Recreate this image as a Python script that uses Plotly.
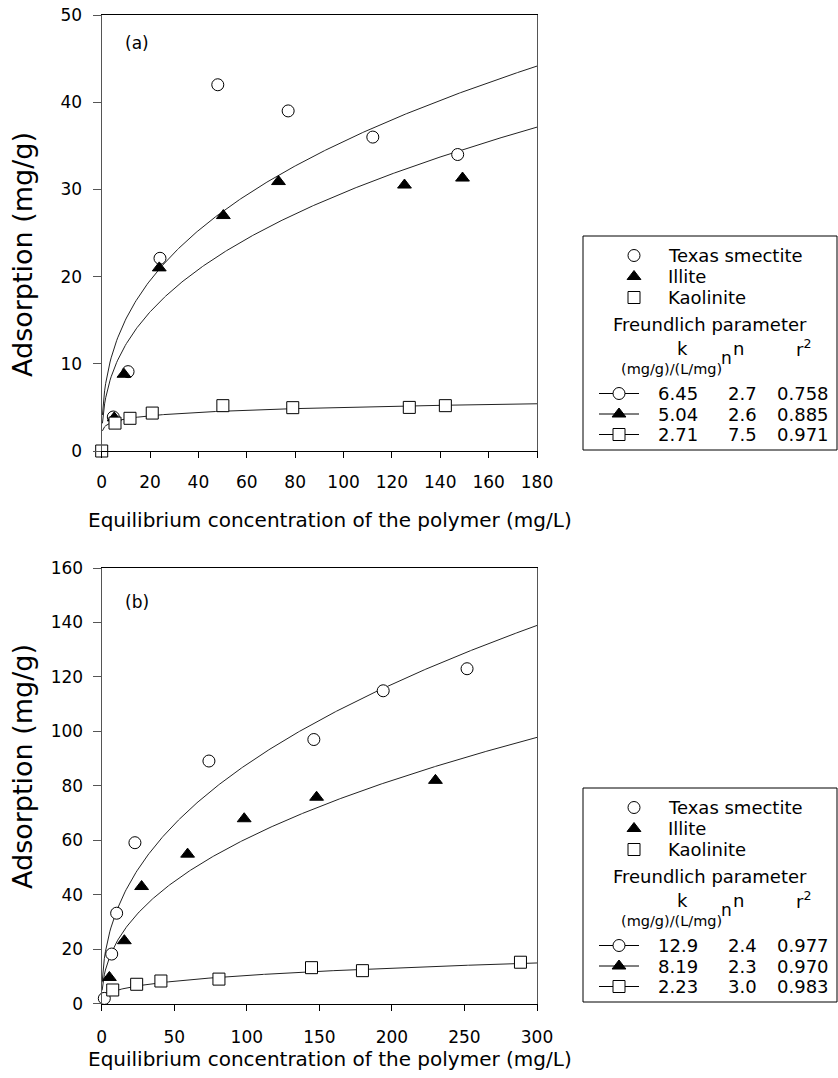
import numpy as np
import plotly.graph_objects as go

# ---- measured adsorption data, panel (a) ----
tx_a_x = [4.8, 10.9, 24.1, 48.0, 77.1, 112.1, 147.2]
tx_a_y = [3.9, 9.1, 22.1, 42.0, 39.0, 36.0, 34.0]
il_a_x = [5.2, 9.2, 23.8, 50.3, 73.1, 125.2, 149.2]
il_a_y = [3.8, 8.8, 21.0, 27.0, 30.9, 30.5, 31.3]
ka_a_x = [0.0, 5.5, 11.7, 20.9, 50.1, 79.0, 127.2, 142.1]
ka_a_y = [0.0, 3.2, 3.75, 4.35, 5.2, 4.97, 5.0, 5.2]

# ---- measured adsorption data, panel (b) ----
tx_b_x = [1.8, 6.9, 10.3, 22.9, 73.9, 146.2, 194.0, 251.8]
tx_b_y = [1.9, 18.2, 33.2, 59.1, 89.1, 97.0, 114.9, 123.0]
il_b_x = [5.3, 15.6, 27.5, 59.2, 98.2, 148.1, 230.0]
il_b_y = [9.6, 23.1, 43.0, 54.9, 67.9, 75.8, 82.0]
ka_b_x = [7.6, 24.1, 40.8, 80.8, 144.6, 179.7, 288.6]
ka_b_y = [5.0, 7.1, 8.3, 9.0, 13.2, 12.1, 15.2]

# ---- Freundlich parameters (k, n, r^2) ----
minerals = ["Texas smectite", "Illite", "Kaolinite"]
k_a = [6.45, 5.04, 2.71]
n_a = [2.7, 2.6, 7.5]
r2_a = ["0.758", "0.885", "0.971"]
k_b = [12.9, 8.19, 2.23]
n_b = [2.4, 2.3, 3.0]
r2_b = ["0.977", "0.970", "0.983"]

x_ticks_a = [0, 20, 40, 60, 80, 100, 120, 140, 160, 180]
y_ticks_a = [0, 10, 20, 30, 40, 50]
x_ticks_b = [0, 50, 100, 150, 200, 250, 300]
y_ticks_b = [0, 20, 40, 60, 80, 100, 120, 140, 160]

W, H = 838, 1078
FONT = "DejaVu Sans, Verdana, sans-serif"
symbols = ["circle", "triangle-up", "square"]
fills = ["white", "black", "white"]


def px_x(p):
    return p / W


def px_y(p):
    return 1 - p / H


def txt_font(size):
    return dict(size=size, family=FONT, color="black")


fig = go.Figure()


def add_panel(series, ks, ns, xmax, xa, ya):
    # fitted Freundlich isotherms q = k * C^(1/n)
    for k, n in zip(ks, ns):
        c = np.linspace(0.3, xmax, 400)
        fig.add_trace(go.Scatter(x=c, y=k * c ** (1.0 / n), mode="lines",
                                 line=dict(color="#222222", width=1),
                                 xaxis=xa, yaxis=ya, showlegend=False,
                                 hoverinfo="skip"))
    for (x, y), sym, fc in zip(series, symbols, fills):
        fig.add_trace(go.Scatter(x=x, y=y, mode="markers", xaxis=xa, yaxis=ya,
                                 marker=dict(symbol=sym, size=12, color=fc,
                                             line=dict(color="black", width=1)),
                                 cliponaxis=False, showlegend=False))


add_panel([(tx_a_x, tx_a_y), (il_a_x, il_a_y), (ka_a_x, ka_a_y)],
          k_a, n_a, 180, "x", "y")
add_panel([(tx_b_x, tx_b_y), (il_b_x, il_b_y), (ka_b_x, ka_b_y)],
          k_b, n_b, 300, "x2", "y2")

# pixel-space overlay (x3/y3) holding the parameter boxes and titles
annotations = []
shapes = []
for top, ks, ns, r2s in [(236, k_a, n_a, r2_a), (788, k_b, n_b, r2_b)]:
    shapes.append(dict(type="rect", xref="x3", yref="y3", x0=583, x1=837,
                       y0=top, y1=top + 214, line=dict(color="black", width=1)))
    for i, name in enumerate(minerals):
        yy = top + 19.5 + 21 * i
        fig.add_trace(go.Scatter(x=[634], y=[yy], mode="markers", xaxis="x3", yaxis="y3",
                                 marker=dict(symbol=symbols[i], size=12, color=fills[i],
                                             line=dict(color="black", width=1)),
                                 showlegend=False, hoverinfo="skip"))
        annotations.append(dict(x=666, y=yy, xref="x3", yref="y3", text=name,
                                showarrow=False, xanchor="left", yanchor="middle",
                                font=txt_font(18)))
    annotations.append(dict(x=710, y=top + 88, xref="x3", yref="y3",
                            text="Freundlich parameter", showarrow=False,
                            xanchor="center", yanchor="middle", font=txt_font(18)))
    for txt, cx in [("k", 682), ("n", 738), ("r<sup>2</sup>", 803)]:
        annotations.append(dict(x=cx, y=top + 112, xref="x3", yref="y3", text=txt,
                                showarrow=False, xanchor="center", yanchor="middle",
                                font=txt_font(18)))
    annotations.append(dict(x=619, y=top + 133, xref="x3", yref="y3",
                            text="(mg/g)/(L/mg)", showarrow=False,
                            xanchor="left", yanchor="middle", font=txt_font(14.5)))
    annotations.append(dict(x=726, y=top + 122, xref="x3", yref="y3",
                            text="n", showarrow=False,
                            xanchor="center", yanchor="middle", font=txt_font(17)))
    for i in range(3):
        yy = top + 157.5 + 20.5 * i
        fig.add_trace(go.Scatter(x=[599, 639], y=[yy, yy], mode="lines", xaxis="x3",
                                 yaxis="y3", line=dict(color="black", width=1),
                                 showlegend=False, hoverinfo="skip"))
        fig.add_trace(go.Scatter(x=[619], y=[yy], mode="markers", xaxis="x3", yaxis="y3",
                                 marker=dict(symbol=symbols[i], size=12, color=fills[i],
                                             line=dict(color="black", width=1)),
                                 showlegend=False, hoverinfo="skip"))
        for txt, cx in [(f"{ks[i]:g}", 678), (f"{ns[i]:.1f}", 742), (r2s[i], 803)]:
            annotations.append(dict(x=cx, y=yy, xref="x3", yref="y3", text=txt,
                                    showarrow=False, xanchor="center", yanchor="middle",
                                    font=txt_font(18)))

# panel tags and axis titles
for tag, yy in [("(a)", 43), ("(b)", 602)]:
    annotations.append(dict(x=123, y=yy, xref="x3", yref="y3", text=tag, showarrow=False,
                            xanchor="left", yanchor="middle", font=txt_font(17)))
for yy in [255, 767]:
    annotations.append(dict(x=22, y=yy, xref="x3", yref="y3", text="Adsorption (mg/g)",
                            showarrow=False, textangle=-90, xanchor="center",
                            yanchor="middle", font=txt_font(27)))
for yy in [520, 1059]:
    annotations.append(dict(x=330, y=yy, xref="x3", yref="y3",
                            text="Equilibrium concentration of the polymer (mg/L)",
                            showarrow=False, xanchor="center", yanchor="middle",
                            font=txt_font(20)))

xdom = [px_x(101.7), px_x(537)]
common_x = dict(showline=True, linecolor="black", linewidth=1, mirror=True,
                ticks="outside", ticklen=6, tickwidth=1, tickcolor="black",
                showgrid=False, zeroline=False, tickfont=txt_font(17),
                automargin=False)
common_y = dict(showline=True, linecolor="#555555", linewidth=1.3, mirror=True,
                ticks="outside", ticklen=8, tickwidth=1, tickcolor="#555555",
                showgrid=False, zeroline=False, tickfont=txt_font(17),
                automargin=False)

fig.update_layout(
    template="none",
    width=W, height=H, autosize=False,
    margin=dict(l=0, r=0, t=0, b=0, pad=0, autoexpand=False),
    paper_bgcolor="white", plot_bgcolor="rgba(0,0,0,0)",
    showlegend=False,
    xaxis=dict(domain=xdom, range=[0, 180], tickvals=x_ticks_a, anchor="y",
               ticklabelstandoff=10, **common_x),
    yaxis=dict(domain=[px_y(451), px_y(15)], range=[0, 50], tickvals=y_ticks_a,
               anchor="x", ticklabelstandoff=7, **common_y),
    xaxis2=dict(domain=xdom, range=[0, 300], tickvals=x_ticks_b, anchor="y2",
                ticklabelstandoff=12, **common_x),
    yaxis2=dict(domain=[px_y(1003.6), px_y(568)], range=[0, 160], tickvals=y_ticks_b,
                anchor="x2", ticklabelstandoff=6, **common_y),
    xaxis3=dict(domain=[0, 1], range=[0, W], visible=False, anchor="y3",
                automargin=False),
    yaxis3=dict(domain=[0, 1], range=[H, 0], visible=False, anchor="x3",
                automargin=False),
    annotations=annotations,
    shapes=shapes,
)

fig.write_html("out.html",
               post_script="document.body.style.margin='0';"
                           "document.body.style.overflow='hidden';")
